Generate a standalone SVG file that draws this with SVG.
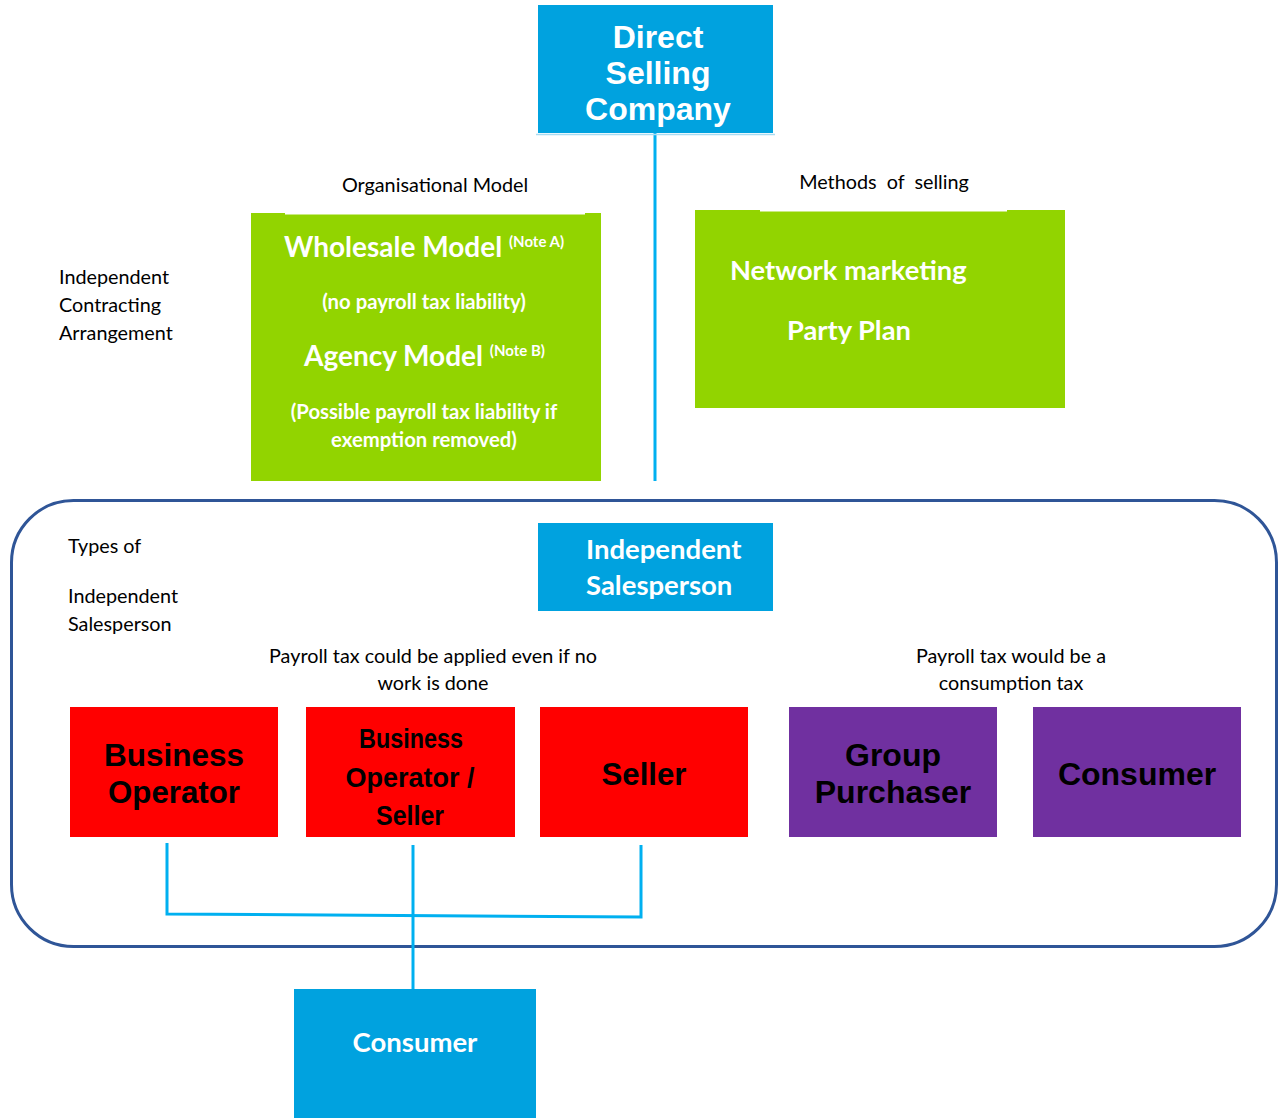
<svg xmlns="http://www.w3.org/2000/svg" width="1278" height="1118" viewBox="0 0 1278 1118">
<style>
.lbl{font-family:Lato,"Open Sans","Noto Sans",sans-serif;font-size:19.8px;fill:#000}
.wt{font-family:Lato,"Open Sans","Noto Sans",sans-serif;font-weight:bold;fill:#fff}
.ar{font-family:"Liberation Sans",Arial,sans-serif;font-weight:bold}
.nar{font-family:"Liberation Sans Narrow","Liberation Sans",Arial,sans-serif;font-weight:bold;fill:#000}
.blue{fill:#00A2DF}
.green{fill:#92D400}
.red{fill:#FF0000}
.purple{fill:#7030A0}
.conn{stroke:#00B0F0;stroke-width:3;fill:none}
</style>

<g id="container">
<rect x="11.5" y="500.5" width="1265" height="446" rx="62" ry="62" fill="none" stroke="#2F5597" stroke-width="3"/>
</g>

<g id="connectors">
<line class="conn" x1="655" y1="133" x2="655" y2="481"/>
<polyline class="conn" points="167,843 167,914 641,917 641,845"/>
<line class="conn" x1="413" y1="845" x2="413" y2="989"/>
</g>

<g id="direct-selling-company">
<rect class="blue" x="538" y="5" width="235" height="128"/>
<line x1="536" y1="134.5" x2="775" y2="134.5" stroke="#A8DCF2" stroke-width="1.5"/>
<text class="ar" fill="#fff" font-size="32" text-anchor="middle"><tspan x="658" y="48">Direct</tspan><tspan x="658" y="84">Selling</tspan><tspan x="658" y="120">Company</tspan></text>
</g>

<g id="labels">
<text class="lbl" x="435" y="192" text-anchor="middle">Organisational Model</text>
<text class="lbl" x="884" y="189" text-anchor="middle" xml:space="preserve">Methods  of  selling</text>
<text class="lbl"><tspan x="59" y="284">Independent</tspan><tspan x="59" y="312">Contracting</tspan><tspan x="59" y="340">Arrangement</tspan></text>
<text class="lbl"><tspan x="68" y="553">Types of</tspan><tspan x="68" y="603">Independent</tspan><tspan x="68" y="631">Salesperson</tspan></text>
<text class="lbl" text-anchor="middle"><tspan x="433" y="663">Payroll tax could be applied even if no</tspan><tspan x="433" y="690">work is done</tspan></text>
<text class="lbl" text-anchor="middle"><tspan x="1011" y="663">Payroll tax would be a</tspan><tspan x="1011" y="690">consumption tax</tspan></text>
</g>

<g id="organisational-model">
<rect class="green" x="251" y="213" width="350" height="268"/>
<line x1="285" y1="213.5" x2="585" y2="213.5" stroke="#fff" stroke-width="2"/>
<text class="wt" x="284" y="257" font-size="28">Wholesale Model <tspan font-size="15" dy="-10">(Note A)</tspan></text>
<text class="wt" x="424" y="309" font-size="20.3" text-anchor="middle">(no payroll tax liability)</text>
<text class="wt" x="304" y="366" font-size="28">Agency Model <tspan font-size="15" dy="-10">(Note B)</tspan></text>
<text class="wt" font-size="20.3" text-anchor="middle"><tspan x="424" y="419">(Possible payroll tax liability if</tspan><tspan x="424" y="447">exemption removed)</tspan></text>
</g>

<g id="methods-of-selling">
<rect class="green" x="695" y="210" width="370" height="198"/>
<line x1="760" y1="210.5" x2="1007" y2="210.5" stroke="#fff" stroke-width="2"/>
<text class="wt" x="730" y="280" font-size="27.3">Network marketing</text>
<text class="wt" x="787" y="340" font-size="27.3">Party Plan</text>
</g>

<g id="independent-salesperson">
<rect class="blue" x="538" y="523" width="235" height="88"/>
<text class="wt" font-size="27.5"><tspan x="586" y="559">Independent</tspan><tspan x="586" y="595">Salesperson</tspan></text>
</g>

<g id="business-operator">
<rect class="red" x="70" y="707" width="208" height="130"/>
<text class="nar" font-size="32" text-anchor="middle"><tspan x="174" y="766" textLength="140" lengthAdjust="spacingAndGlyphs">Business</tspan><tspan x="174" y="803" textLength="132" lengthAdjust="spacingAndGlyphs">Operator</tspan></text>
</g>

<g id="business-operator-seller">
<rect class="red" x="306" y="707" width="209" height="130"/>
<text class="nar" font-size="27" text-anchor="middle"><tspan x="411" y="748" textLength="104" lengthAdjust="spacingAndGlyphs">Business</tspan><tspan x="410" y="787" textLength="129" lengthAdjust="spacingAndGlyphs">Operator /</tspan><tspan x="410" y="825" textLength="68" lengthAdjust="spacingAndGlyphs">Seller</tspan></text>
</g>

<g id="seller">
<rect class="red" x="540" y="707" width="208" height="130"/>
<text class="nar" font-size="32" x="644" y="785" text-anchor="middle" textLength="85" lengthAdjust="spacingAndGlyphs">Seller</text>
</g>

<g id="group-purchaser">
<rect class="purple" x="789" y="707" width="208" height="130"/>
<text class="ar" fill="#000" font-size="32" text-anchor="middle"><tspan x="893" y="766">Group</tspan><tspan x="893" y="803">Purchaser</tspan></text>
</g>

<g id="consumer-type">
<rect class="purple" x="1033" y="707" width="208" height="130"/>
<text class="ar" fill="#000" font-size="32" x="1137" y="785" text-anchor="middle">Consumer</text>
</g>

<g id="consumer">
<rect class="blue" x="294" y="989" width="242" height="129"/>
<text class="wt" font-size="27.5" x="415" y="1052" text-anchor="middle">Consumer</text>
</g>
</svg>
